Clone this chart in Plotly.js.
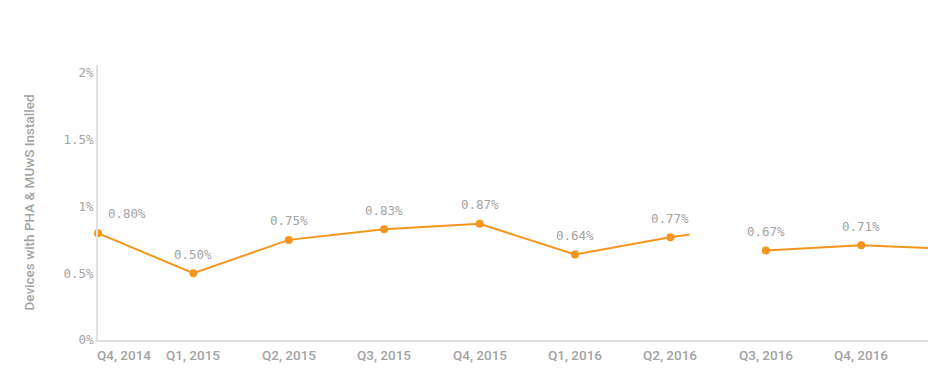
<!DOCTYPE html>
<html><head><meta charset="utf-8">
<script src="https://cdn.plot.ly/plotly-3.0.1.min.js"></script>
<style>html,body{margin:0;padding:0;background:#fff}#chart{width:945px;height:385px}</style>
</head><body><div id="chart"></div>
<script>
const quarters = ["Q4, 2014","Q1, 2015","Q2, 2015","Q3, 2015","Q4, 2015","Q1, 2016","Q2, 2016","Q3, 2016","Q4, 2016"];
const rates = [0.80, 0.50, 0.75, 0.83, 0.87, 0.64, 0.77, 0.67, 0.71];
// the line is broken after Q2, 2016 and trails off after Q4, 2016
const segmentBreakAfter = 6;
const stubFrom = [6, 8];
const stubToX = [6.2, 8.7];
const stubToY = [0.79, 0.69];

const idx = quarters.map((q,i)=>i);
const lineX = [], lineY = [];
idx.forEach(i=>{ lineX.push(i); lineY.push(rates[i]); if(i===segmentBreakAfter){lineX.push(null); lineY.push(null);} });
stubFrom.forEach((s,k)=>{ lineX.push(null); lineY.push(null); lineX.push(s); lineY.push(rates[s]); lineX.push(stubToX[k]); lineY.push(stubToY[k]); });

const orange = '#f4961e';
const mono = 'DejaVu Sans Mono, monospace';
const grey = '#a3a3a3';
const traces = [
  {x: lineX, y: lineY, mode:'lines', line:{color:orange, width:2}, hoverinfo:'skip', connectgaps:false},
  {x: idx, y: rates, mode:'markers', marker:{color:orange, size:8}, cliponaxis:false}
];
const tickAnn = quarters.map((q,i)=>({
  x: i===0 ? 0.27 : i, y: 0, xref:'x', yref:'paper', yanchor:'top', yshift:-5,
  text:q, showarrow:false, font:{family:'Roboto, sans-serif', size:13.5, color:grey, weight:500}
}));
const valAnn = rates.map((v,i)=>({
  x: i, y: v, xref:'x', yref:'y', xanchor: i===0 ? 'left' : 'center', xshift: i===0 ? 8 : 0,
  yanchor:'middle', yshift: i===0 ? 20 : 19,
  text: v.toFixed(2)+'%', showarrow:false, font:{family:mono, size:12.5, color:grey}
}));
const layout = {
  width:945, height:385,
  margin:{l:98, r:17, t:65, b:45},
  paper_bgcolor:'#fff', plot_bgcolor:'#fff',
  showlegend:false,
  xaxis:{range:[0,8.7], showgrid:false, zeroline:false, showticklabels:false, ticks:'',
         showline:true, linecolor:'#e0e0e0', linewidth:2},
  yaxis:{range:[0,2.06], showgrid:false, zeroline:false, tickvals:[0,0.5,1,1.5,2],
         ticktext:['0%','0.5%','1%','1.5%','2%'], ticks:'', ticklen:0,
         tickfont:{family:mono, size:12.5, color:grey},
         showline:true, linecolor:'#e0e0e0', linewidth:2,
         title:{text:'Devices with PHA & MUwS Installed', standoff:26,
                font:{family:'Roboto, sans-serif', size:13.5, color:grey, weight:500}}},
  annotations: tickAnn.concat(valAnn)
};
Plotly.newPlot('chart', traces, layout, {displayModeBar:false, staticPlot:true});
</script></body></html>
